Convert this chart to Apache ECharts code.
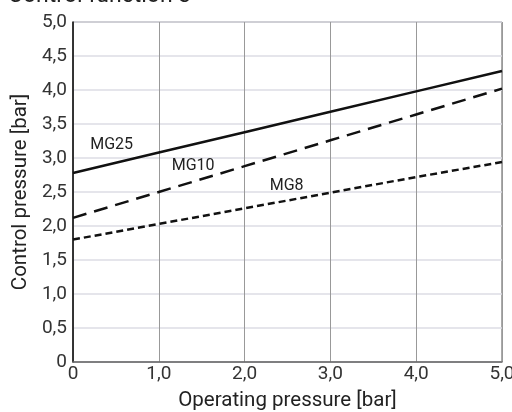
<!DOCTYPE html>
<html>
<head>
<meta charset="utf-8">
<script src="https://cdn.jsdelivr.net/npm/echarts@6/dist/echarts.min.js"></script>
<style>
  html, body { margin: 0; padding: 0; background: #fff; }
  #main { width: 512px; height: 412px; }
</style>
</head>
<body>
<div id="main"></div>
<script>
// operating pressure (x) and control pressure (y) for each curve
var xs = [0, 1, 2, 3, 4, 5];
var mg25 = [2.78, 3.08, 3.38, 3.68, 3.98, 4.28];
var mg10 = [2.12, 2.5, 2.88, 3.26, 3.64, 4.02];
var mg8 = [1.8, 2.03, 2.26, 2.49, 2.72, 2.94];
// where the curve names sit (data coords)
var lblMG25 = [0.45, 3.19];
var lblMG10 = [1.4, 2.88];
var lblMG8 = [2.49, 2.59];

function pairs(ys) {
  return xs.map(function (x, i) { return [x, ys[i]]; });
}
function fmt(v) {
  return v === 0 ? "0" : v.toFixed(1).replace(".", ",");
}
function nameMark(name, pos) {
  return {
    symbol: "circle",
    symbolSize: 0,
    label: { show: true, position: "inside", formatter: name, color: "#222", fontSize: 16, fontFamily: "Roboto" },
    data: [{ coord: pos }],
  };
}

var chart = echarts.init(document.getElementById("main"));
chart.setOption({
  animation: false,
  textStyle: { fontFamily: "Roboto" },
  title: {
    text: "Control function 3",
    left: 8,
    top: -15,
    padding: 0,
    textStyle: { fontSize: 23, fontWeight: "normal", color: "#222", fontFamily: "Roboto" },
  },
  grid: {
    left: 73, right: 10, top: 22, bottom: 50,
    containLabel: false, outerBoundsMode: "none",
    show: true, borderColor: "#555", borderWidth: 1,
  },
  xAxis: {
    type: "value",
    min: 0,
    max: 5,
    interval: 1,
    name: "Operating pressure [bar]",
    nameLocation: "middle",
    nameGap: 28,
    nameTextStyle: { fontSize: 20.5, color: "#222", fontFamily: "Roboto" },
    axisLine: { lineStyle: { color: "#666", width: 1.5 } },
    axisTick: { show: false },
    axisLabel: { formatter: fmt, fontSize: 19, color: "#333", margin: 3, fontFamily: "Roboto" },
    splitLine: { lineStyle: { color: "#999", width: 1 } },
  },
  yAxis: {
    type: "value",
    min: 0,
    max: 5,
    interval: 0.5,
    name: "Control pressure [bar]",
    nameLocation: "middle",
    nameGap: 36,
    nameTextStyle: { fontSize: 20.5, color: "#222", fontFamily: "Roboto" },
    axisLine: { lineStyle: { color: "#111", width: 1.5 } },
    axisTick: { show: false },
    axisLabel: { formatter: fmt, fontSize: 19, color: "#333", margin: 6, fontFamily: "Roboto" },
    splitLine: { lineStyle: { color: "#dcdce4", width: 1.5 } },
  },
  series: [
    {
      name: "MG25",
      type: "line",
      data: pairs(mg25),
      showSymbol: false,
      lineStyle: { color: "#111", width: 2.5, type: "solid" },
      markPoint: nameMark("MG25", lblMG25),
    },
    {
      name: "MG10",
      type: "line",
      data: pairs(mg10),
      showSymbol: false,
      lineStyle: { color: "#111", width: 2.5, type: [14, 8] },
      markPoint: nameMark("MG10", lblMG10),
    },
    {
      name: "MG8",
      type: "line",
      data: pairs(mg8),
      showSymbol: false,
      lineStyle: { color: "#111", width: 2.5, type: [7, 4] },
      markPoint: nameMark("MG8", lblMG8),
    },
  ],
});
</script>
</body>
</html>
